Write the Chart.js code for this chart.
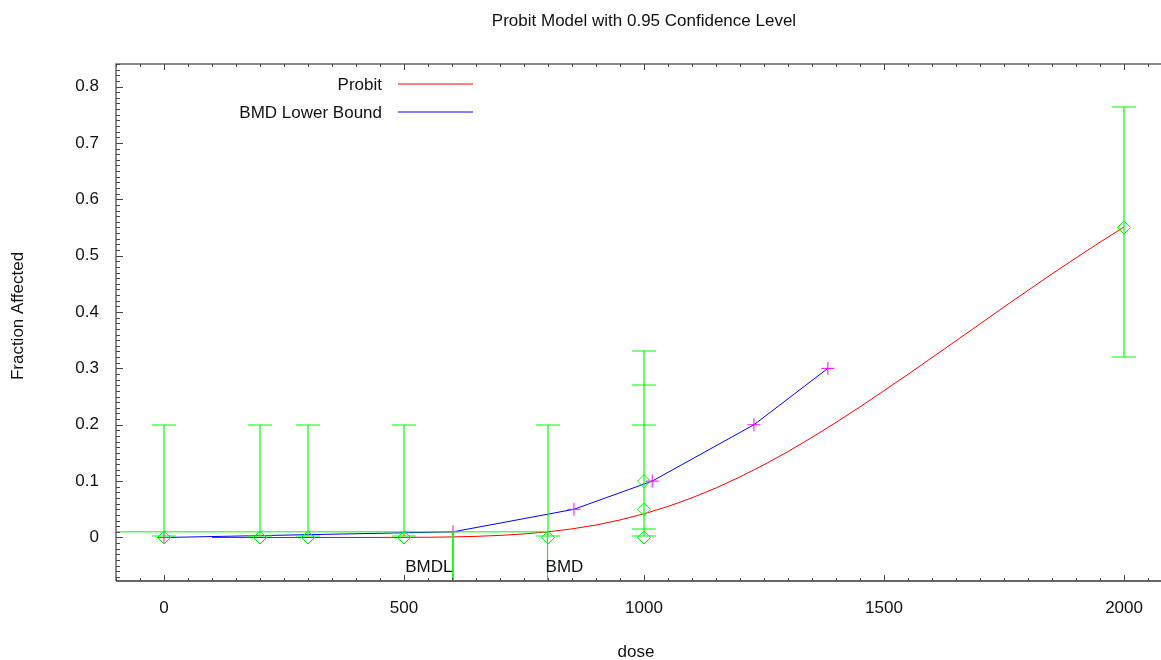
<!DOCTYPE html>
<html>
<head>
<meta charset="utf-8">
<script src="https://cdn.jsdelivr.net/npm/chart.js@4.4.1/dist/chart.umd.min.js"></script>
<style>
  html, body { margin: 0; padding: 0; background: #fff; overflow: hidden; }
  #wrap { width: 1161px; height: 660px; position: relative; }
  canvas { display: block; }
</style>
</head>
<body>
<div id="wrap"><canvas id="myChart"></canvas></div>
<script>
// probit curve
const probitDose = [100, 200, 300, 400, 500, 550, 600, 650, 700, 750, 800, 850, 900, 950, 1000, 1050, 1100, 1150, 1200, 1250, 1300, 1350, 1400, 1450, 1500, 1550, 1600, 1650, 1700, 1750, 1800, 1850, 1900, 1950, 2000];
const probitFrac = [0, 0, 0, 0.00001, 0.0002, 0.0004, 0.001, 0.002, 0.0037, 0.0063, 0.01, 0.0153, 0.0222, 0.0311, 0.042, 0.0551, 0.0704, 0.0879, 0.1075, 0.129, 0.1524, 0.1777, 0.2041, 0.2318, 0.2604, 0.2894, 0.3192, 0.349, 0.379, 0.409, 0.4384, 0.4677, 0.496, 0.5239, 0.5509];
// BMD lower bound
const lowerDose = [0, 602, 854, 1017, 1229, 1383];
const lowerFrac = [0, 0.01, 0.05, 0.1, 0.2, 0.3];
// observed data + confidence interval
const obsDose = [0, 200, 300, 500, 800, 1000, 1000, 1000, 2000];
const obsFrac = [0, 0, 0, 0, 0, 0, 0.05, 0.1, 0.55];
const obsLow = [0.002, 0.002, 0.002, 0.002, 0.002, 0.002, 0.003, 0.0155, 0.32];
const obsHigh = [0.2, 0.2, 0.2, 0.2, 0.2, 0.2, 0.27, 0.33, 0.763];
const bmr = 0.01;
const bmd = 799;
const bmdl = 602;
const xTickLabels = [0, 500, 1000, 1500, 2000];
const yTickLabels = [0, 0.1, 0.2, 0.3, 0.4, 0.5, 0.6, 0.7, 0.8];
const xMin = -100, xMax = 2077;
const yMin = -0.0772, yMax = 0.84;

const FONT = '17px "Liberation Sans", Arial, sans-serif';
const GREEN = '#00ff00';

Chart.defaults.font.family = '"Liberation Sans", Arial, sans-serif';
Chart.defaults.font.size = 17;
Chart.defaults.color = '#111';

const pts = (xs, ys) => xs.map((v, i) => ({x: v, y: ys[i]}));
const isLabel = (list, v) => list.some(t => Math.abs(t - v) < 1e-6);

const decor = {
    id: 'decor',
    afterDatasetsDraw(chart) {
        const ctx = chart.ctx;
        const x = chart.scales.x, y = chart.scales.y;
        ctx.save();
        ctx.strokeStyle = GREEN;
        ctx.lineWidth = 1.2;
        ctx.beginPath();
        for (let i = 0; i < obsDose.length; i++) {
            const px = Math.round(x.getPixelForValue(obsDose[i]));
            const lo = Math.round(y.getPixelForValue(obsLow[i]));
            const hi = Math.round(y.getPixelForValue(obsHigh[i]));
            ctx.moveTo(px, lo); ctx.lineTo(px, hi);
            ctx.moveTo(px - 12, lo); ctx.lineTo(px + 12, lo);
            ctx.moveTo(px - 12, hi); ctx.lineTo(px + 12, hi);
        }
        ctx.stroke();
        ctx.restore();
    },
    afterDraw(chart) {
        const ctx = chart.ctx;
        const a = chart.chartArea;
        const x = chart.scales.x, y = chart.scales.y;
        ctx.save();
        // frame
        ctx.strokeStyle = '#666';
        ctx.lineWidth = 1.5;
        ctx.beginPath();
        ctx.moveTo(a.right, a.top);
        ctx.lineTo(a.left, a.top);
        ctx.lineTo(a.left, a.bottom);
        ctx.stroke();
        ctx.lineWidth = 2;
        ctx.beginPath();
        ctx.moveTo(a.left, a.bottom);
        ctx.lineTo(a.right, a.bottom);
        ctx.stroke();
        // inward ticks
        ctx.lineWidth = 1;
        ctx.strokeStyle = '#444';
        ctx.beginPath();
        x.ticks.forEach(t => {
            const px = Math.round(x.getPixelForValue(t.value)) + 0.5;
            const len = isLabel(xTickLabels, t.value) ? 6 : 3;
            ctx.moveTo(px, a.bottom); ctx.lineTo(px, a.bottom - len);
            ctx.moveTo(px, a.top); ctx.lineTo(px, a.top + len);
        });
        y.ticks.forEach(t => {
            const py = Math.round(y.getPixelForValue(t.value)) + 0.5;
            const len = isLabel(yTickLabels, t.value) ? 7 : 4;
            ctx.moveTo(a.left, py); ctx.lineTo(a.left + len, py);
        });
        ctx.stroke();

        ctx.fillStyle = '#111';
        ctx.font = FONT;
        ctx.textBaseline = 'middle';
        // tick labels
        ctx.textAlign = 'center';
        xTickLabels.forEach(v => ctx.fillText(String(v), x.getPixelForValue(v), a.bottom + 27));
        ctx.textAlign = 'right';
        yTickLabels.forEach(v => ctx.fillText(String(v), a.left - 17, y.getPixelForValue(v)));

        // titles
        ctx.textAlign = 'center';
        ctx.fillText('Probit Model with 0.95 Confidence Level', 644, 21);
        ctx.fillText('dose', 636, 652);
        ctx.save();
        ctx.translate(18, 316);
        ctx.rotate(-Math.PI / 2);
        ctx.fillText('Fraction Affected', 0, 0);
        ctx.restore();

        // BMD / BMDL labels
        const pl = x.getPixelForValue(bmdl), pd = x.getPixelForValue(bmd);
        ctx.textAlign = 'right';
        ctx.fillText('BMDL', pl - 0.5, 567);
        ctx.textAlign = 'left';
        ctx.fillText('BMD', pd - 2, 567);

        // legend
        ctx.textAlign = 'right';
        ctx.fillText('Probit', 382, 85);
        ctx.fillText('BMD Lower Bound', 382, 113);
        ctx.lineWidth = 1;
        ctx.strokeStyle = '#ff0000';
        ctx.beginPath(); ctx.moveTo(398, 84); ctx.lineTo(473, 84); ctx.stroke();
        ctx.strokeStyle = '#0000ff';
        ctx.beginPath(); ctx.moveTo(398, 112); ctx.lineTo(473, 112); ctx.stroke();
        ctx.restore();
    }
};

const config = {
    type: 'scatter',
    data: {
        datasets: [
            {
                label: 'BMR level',
                data: [{x: xMin, y: bmr}, {x: bmd, y: bmr}, {x: bmd, y: yMin}],
                showLine: true, borderColor: GREEN, borderWidth: 1, pointRadius: 0, order: 0
            },
            {
                label: 'BMDL line',
                data: [{x: bmdl, y: bmr}, {x: bmdl, y: yMin}],
                showLine: true, borderColor: GREEN, borderWidth: 1, pointRadius: 0, order: 0
            },
            {
                label: 'Data',
                data: pts(obsDose, obsFrac),
                showLine: false, pointStyle: 'rectRot', pointRadius: 6.5,
                pointBorderColor: GREEN, pointBackgroundColor: 'rgba(0,0,0,0)', pointBorderWidth: 1, order: 1
            },
            {
                label: 'BMD Lower Bound',
                data: pts(lowerDose, lowerFrac),
                showLine: true, borderColor: '#0000ff', borderWidth: 1,
                pointStyle: 'cross', pointRadius: 6.5, pointBorderColor: '#ff00ff', pointBorderWidth: 1, order: 2
            },
            {
                label: 'Probit',
                data: pts(probitDose, probitFrac),
                showLine: true, borderColor: '#ff0000', borderWidth: 1, pointRadius: 0, order: 3
            }
        ]
    },
    options: {
        responsive: true,
        maintainAspectRatio: false,
        animation: false,
        events: [],
        layout: { autoPadding: false, padding: { top: 64, left: 0, right: 0, bottom: 0 } },
        plugins: { legend: { display: false }, title: { display: false }, tooltip: { enabled: false } },
        scales: {
            x: {
                type: 'linear', min: xMin, max: xMax,
                grid: { display: false, drawTicks: false },
                border: { display: false },
                ticks: { display: false, stepSize: 50, includeBounds: false, autoSkip: false },
                afterFit: s => { s.height = 79; }
            },
            y: {
                type: 'linear', min: yMin, max: yMax,
                grid: { display: false, drawTicks: false },
                border: { display: false },
                ticks: { display: false, stepSize: 0.01, includeBounds: false, autoSkip: false },
                afterFit: s => { s.width = 116; }
            }
        }
    },
    plugins: [decor]
};

const myChart = new Chart(document.getElementById('myChart').getContext('2d'), config);
</script>
</body>
</html>
